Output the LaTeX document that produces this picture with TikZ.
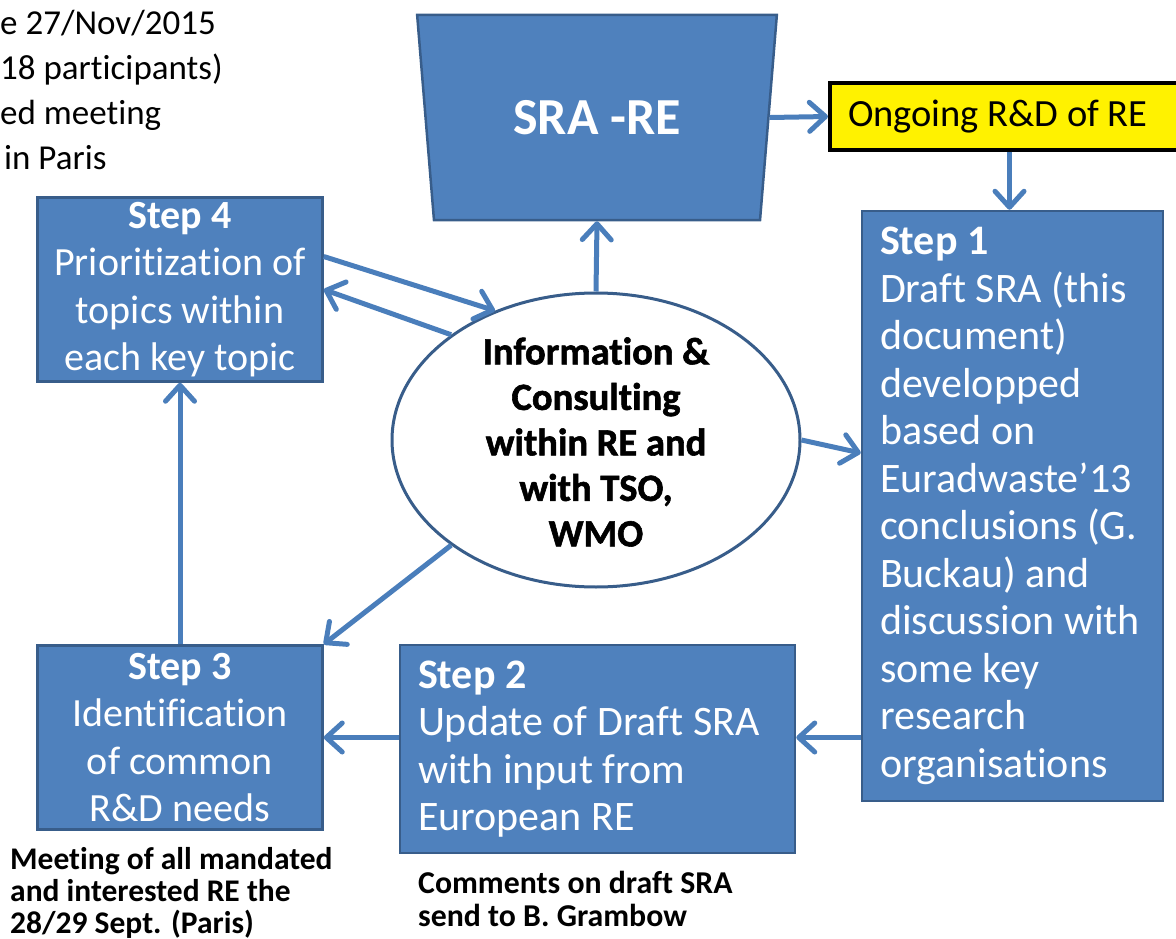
\documentclass[tikz,border=0pt]{standalone}
\usepackage{fontspec}
\setmainfont{Carlito}[Ligatures=NoCommon]
\newfontfamily\heavyfont{Carlito}[Ligatures=NoCommon, BoldFeatures={FakeBold=1.5}]
\usetikzlibrary{arrows.meta,shapes.geometric,calc}
\definecolor{boxfill}{HTML}{4F81BD}
\definecolor{boxline}{HTML}{385D8A}
\definecolor{arrowblue}{HTML}{4A7EBB}
\begin{document}
\begin{tikzpicture}[x=1pt,y=-1pt,
  stepbox/.style={rectangle, fill=boxfill, draw=boxline, line width=2.5pt, text=white,
    font=\fontsize{40}{47.5}\selectfont, inner sep=0pt},
  bigstep/.style={font=\fontsize{42}{47.5}\selectfont},
  arr/.style={draw=arrowblue, line width=5pt, -{Straight Barb[length=16pt,width=29pt,round]}},
  plain/.style={inner sep=0pt, align=left, anchor=north west}
]
\useasboundingbox (0,0) rectangle (1176,939);

% top-left note
\node[plain, font=\fontsize{35}{45}\selectfont] (note) at (0,10)
  {e 27/Nov/2015\\18 participants)\\ed meeting\\\hspace*{4pt}in Paris};

% central trapezium
\node[trapezium, trapezium angle=75.9, shape border rotate=180, trapezium stretches=true,
  minimum width=360pt, minimum height=205pt, fill=boxfill, draw=boxline, line width=2.5pt,
  text=white, font=\bfseries\fontsize{52}{60}\selectfont, inner sep=0pt] (sra) at (597,117.5) {SRA -RE};

% yellow box
\node[rectangle, fill=yellow, draw=black, line width=4pt, minimum width=348pt, minimum height=67pt,
  text width=312pt, align=flush left, font=\fontsize{38.5}{40}\selectfont, inner sep=0pt] (yel) at (1004,116.5)
  {Ongoing R\&D of RE};

% steps
\node[stepbox, bigstep, minimum width=301pt, minimum height=590pt, text width=265pt, align=flush left] (s1) at (1012.5,506)
  {\textbf{Step 1}\\Draft SRA (this\\document)\\developped\\based on\\Euradwaste’13\\conclusions (G.\\Buckau) and\\discussion with\\some key\\research\\organisations};
\node[stepbox, bigstep, minimum width=395pt, minimum height=208pt, text width=359pt, align=flush left] (s2) at (597.5,749)
  {\textbf{Step 2}\\Update of Draft SRA\\with input from\\European RE};
\node[stepbox, minimum width=285pt, minimum height=184pt, text width=275pt, align=flush center] (s3) at (180,737.5)
  {\textbf{Step 3}\\Identification\\of common\\R\&D needs};
\node[stepbox, minimum width=285pt, minimum height=184pt, text width=275pt, align=flush center] (s4) at (180,289.5)
  {\textbf{Step 4}\\Prioritization of\\topics within\\each key topic};

% ellipse
\coordinate (ellc) at (596,440);
\node[ellipse, draw=boxline, line width=3pt, fill=white, minimum width=408pt, minimum height=294pt] (ell) at (ellc) {};
\node[font=\heavyfont\bfseries\fontsize{38.5}{45.5}\selectfont, align=center, inner sep=0pt] (elltext) at (596,442)
  {Information \&\\Consulting\\within RE and\\with TSO,\\WMO};

% captions
\node[plain, font=\bfseries\fontsize{31.5}{32}\selectfont] (cap3) at (10,847)
  {Meeting of all mandated\\and interested RE the\\28/29 Sept. (Paris)};
\node[plain, font=\bfseries\fontsize{31.8}{33}\selectfont] (cap2) at (418,871)
  {Comments on draft SRA\\send to B. Grambow};

% connectors
\draw[arr] (ell.north) -- (sra.south);
\draw[arr] (sra.east) -- (yel.west);
\draw[arr] ($(yel.south -| s1.north)+(-3,0)$) -- ($(s1.north)+(-3,0)$);
\draw[arr] (ell.east) -- ($(s1.west)+(0,-53)$);
\draw[arr] (s1.west |- s3.east) -- (s2.east |- s3.east);
\draw[arr] (s2.west |- s3.east) -- (s3.east);
\draw[arr] (s3.north) -- (s4.south);
\draw[arr] ($(s4.east)+(0,-33)$) -- (ell.128);
\draw[arr] (ell.144) -- (s4.east);
\draw[arr] (ell.216) -- (s3.north east);
\end{tikzpicture}
\end{document}
